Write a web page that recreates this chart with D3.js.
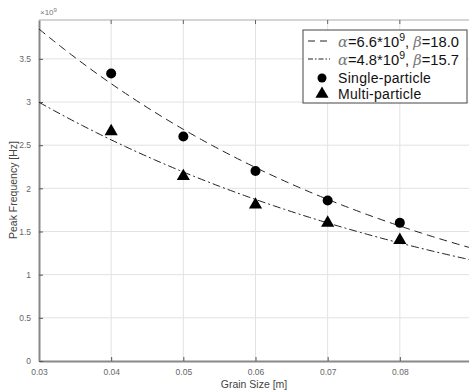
<!DOCTYPE html>
<html><head><meta charset="utf-8">
<script src="https://cdn.jsdelivr.net/npm/d3@7"></script>
<style>body{margin:0;background:#fff;}svg{display:block;font-family:"Liberation Sans",Arial,sans-serif;}</style>
</head><body><svg id="c" width="469" height="392"></svg>
<script>
const grainSize = [0.04, 0.05, 0.06, 0.07, 0.08];
const singleParticle = [3.33, 2.60, 2.20, 1.86, 1.60];
const multiParticle = [2.66, 2.14, 1.81, 1.60, 1.40];
const fitAlpha = [6.6, 4.8];
const fitBeta = [18.0, 15.7];
const fitLabels = [["6.6", "18.0"], ["4.8", "15.7"]];
const xTicks = [0.03, 0.04, 0.05, 0.06, 0.07, 0.08];
const yTicks = [0, 0.5, 1, 1.5, 2, 2.5, 3, 3.5];

const svg = d3.select("#c");
const L = 39, R = 472, T = 20, B = 361;
const x = d3.scaleLinear().domain([0.03, 0.09]).range([L, R]);
const y = d3.scaleLinear().domain([0, 3.95]).range([B, T]);

// grid
svg.append("g").selectAll("line").data(xTicks.slice(1)).join("line")
  .attr("x1", d => x(d)).attr("x2", d => x(d)).attr("y1", T).attr("y2", B)
  .attr("stroke", "#e2e2e2").attr("stroke-width", 1);
svg.append("g").selectAll("line").data(yTicks.slice(1)).join("line")
  .attr("x1", L).attr("x2", R).attr("y1", d => y(d)).attr("y2", d => y(d))
  .attr("stroke", "#e2e2e2").attr("stroke-width", 1);
// top border
svg.append("line").attr("x1", L).attr("x2", R).attr("y1", T).attr("y2", T).attr("stroke", "#aaa").attr("stroke-width", 1);
svg.append("g").selectAll("line").data(xTicks.slice(1)).join("line")
  .attr("x1", d => x(d)).attr("x2", d => x(d)).attr("y1", T).attr("y2", T + 4).attr("stroke", "#666");

// axes
const xa = svg.append("g").attr("transform", `translate(0,${B})`)
  .call(d3.axisBottom(x).tickValues(xTicks).tickSize(-4).tickSizeOuter(0).tickPadding(8).tickFormat(d3.format(".2f")));
const ya = svg.append("g").attr("transform", `translate(${L},0)`)
  .call(d3.axisLeft(y).tickValues(yTicks).tickSize(-4).tickSizeOuter(0).tickPadding(8).tickFormat(d => d));
[xa, ya].forEach(a => {
  a.select(".domain").attr("stroke", "#888").attr("stroke-width", 2);
  a.selectAll(".tick line").attr("stroke", "#555");
  a.selectAll("text").attr("fill", "#666").attr("font-size", 8.5);
});

// fit curves
const xs = d3.range(0, 121).map(i => 0.03 + i * 0.0005);
const line = d3.line().x(d => x(d[0])).y(d => y(d[1]));
const dashes = ["8,5", "8,3,2,3"];
fitAlpha.forEach((a, k) => {
  svg.append("path").datum(xs.map(v => [v, a * Math.exp(-fitBeta[k] * v)]))
    .attr("d", line).attr("fill", "none").attr("stroke", "#222").attr("stroke-width", 1)
    .attr("stroke-dasharray", dashes[k]);
});

// points
svg.append("g").selectAll("circle").data(grainSize).join("circle")
  .attr("cx", d => x(d)).attr("cy", (d, i) => y(singleParticle[i])).attr("r", 5).attr("fill", "#000");
const tri = d3.symbol().type(d3.symbolTriangle).size(75);
svg.append("g").selectAll("path").data(grainSize).join("path")
  .attr("transform", (d, i) => `translate(${x(d)},${y(multiParticle[i])})`).attr("d", tri).attr("fill", "#000");

// multiplier
const m = svg.append("text").attr("x", 40).attr("y", 15).attr("font-size", 8).attr("fill", "#777");
m.append("tspan").text("×10");
m.append("tspan").attr("dy", -3).attr("font-size", 6).text("9");

// axis labels
svg.append("text").attr("x", 254).attr("y", 388).attr("text-anchor", "middle").attr("font-size", 10.5).attr("fill", "#444").text("Grain Size [m]");
svg.append("text").attr("transform", "translate(17,190) rotate(-90)").attr("text-anchor", "middle").attr("font-size", 10.5).attr("fill", "#444").text("Peak Frequency [Hz]");

// legend
const lg = svg.append("g");
lg.append("rect").attr("x", 303).attr("y", 30).attr("width", 164).attr("height", 73).attr("fill", "#fff").attr("stroke", "#444").attr("stroke-width", 1);
const rowY = [47, 65, 83, 99];
const legDash = ["7,5", "5,2,1.5,2"];
[0, 1].forEach(k => {
  lg.append("line").attr("x1", 308).attr("x2", 330).attr("y1", rowY[k] - 6).attr("y2", rowY[k] - 6)
    .attr("stroke", "#222").attr("stroke-dasharray", legDash[k]);
  const t = lg.append("text").attr("x", 338).attr("y", rowY[k]).attr("font-size", 14).attr("fill", "#111")
    .attr("textLength", 121).attr("lengthAdjust", "spacingAndGlyphs");
  t.append("tspan").attr("font-family", "'DejaVu Serif',serif").attr("font-style", "italic").attr("fill", "#777").text("α");
  t.append("tspan").text("=" + fitLabels[k][0] + "*10");
  t.append("tspan").attr("dy", -6).attr("font-size", 10).text("9");
  t.append("tspan").attr("dy", 6).text(", ");
  t.append("tspan").attr("font-family", "'DejaVu Serif',serif").attr("font-style", "italic").attr("fill", "#777").text("β");
  t.append("tspan").text("=" + fitLabels[k][1]);
});
lg.append("circle").attr("cx", 322).attr("cy", 78).attr("r", 4.5).attr("fill", "#000");
lg.append("path").attr("transform", `translate(322,94)`).attr("d", tri).attr("fill", "#000");
["Single-particle", "Multi-particle"].forEach((s, i) => {
  lg.append("text").attr("x", 338).attr("y", rowY[2 + i]).attr("font-size", 14).attr("fill", "#111")
    .attr("letter-spacing", 0.3).text(s);
});
</script></body></html>
